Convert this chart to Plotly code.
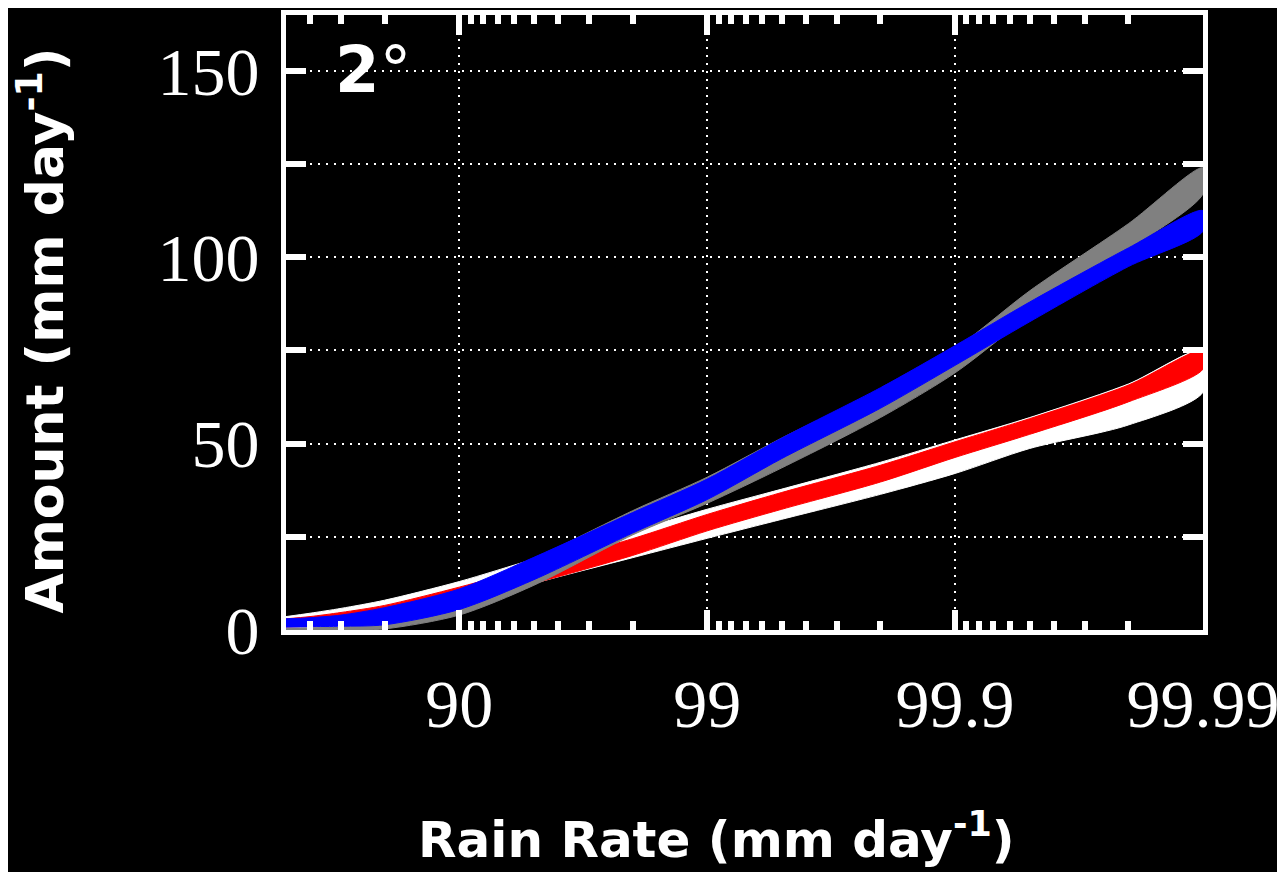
import plotly.graph_objects as go

# ---- data (percentiles and band edges, mm/day) ----
PCT = [50, 60, 70, 80, 90, 95, 98, 99, 99.5, 99.8, 99.9, 99.95, 99.98, 99.99]

WHITE_HI = [3.6, 4.5, 5.8, 8.0, 13.0, 19.0, 26.5, 32.4, 37.8, 45.0, 51.0, 57.0, 66.0, 75.0]
WHITE_LO = [0.5, 0.7, 1.0, 2.0, 6.5, 12.5, 19.4, 24.6, 29.7, 36.4, 42.0, 48.7, 55.0, 63.8]

RED_HI = [3.0, 3.6, 4.7, 6.6, 11.5, 17.0, 24.5, 31.0, 36.9, 44.2, 50.5, 56.7, 65.7, 75.0]
RED_LO = [0.8, 1.0, 1.5, 2.6, 7.0, 12.5, 20.0, 26.6, 32.4, 39.7, 46.3, 52.5, 61.2, 70.0]

GRAY_HI = [0.5, 0.6, 0.8, 3.0, 9.5, 19.0, 32.0, 41.0, 51.5, 64.5, 75.5, 91.0, 109.0, 124.0]
GRAY_LO = [0.0, 0.0, 0.0, 0.3, 4.0, 12.0, 25.5, 34.0, 43.5, 57.0, 69.0, 84.3, 102.0, 117.0]

BLUE_HI = [3.0, 3.3, 4.0, 6.0, 11.0, 19.5, 31.5, 40.5, 51.5, 65.0, 76.3, 88.0, 102.5, 112.5]
BLUE_LO = [0.8, 0.9, 1.0, 1.4, 5.5, 13.5, 26.0, 35.0, 46.0, 59.5, 71.0, 82.7, 97.5, 107.0]

MAJOR_PCT = [90, 99, 99.9, 99.99]
MAJOR_LABELS = ["90", "99", "99.9", "99.99"]
MINOR_PCT = [60, 70, 80,
             91, 92, 93, 94, 95, 96, 97, 98,
             99.1, 99.2, 99.3, 99.4, 99.5, 99.6, 99.7, 99.8,
             99.91, 99.92, 99.93, 99.94, 99.95, 99.96, 99.97, 99.98]
Y_TICKS = [0, 50, 100, 150]
Y_LABELS = ["0", "50", "100", "150"]
Y_UNLABELLED = [25, 75, 125]


def exceed(p_list):
    # fraction of samples above the percentile -> plotted on reversed log axis
    return [round(1 - p / 100.0, 8) for p in p_list]


X = exceed(PCT)

fig = go.Figure()


def band(hi, lo, color):
    xs = X + X[::-1]
    ys = hi + lo[::-1]
    fig.add_trace(go.Scatter(
        x=xs, y=ys, mode="lines", fill="toself", fillcolor=color,
        line=dict(color=color, width=1, shape="spline", smoothing=0.8),
        hoverinfo="skip", showlegend=False))


band(WHITE_HI, WHITE_LO, "#ffffff")
band(RED_HI, RED_LO, "#ff0000")
band(GRAY_HI, GRAY_LO, "#808080")
band(BLUE_HI, BLUE_LO, "#0000ff")

tick_font = dict(family="Liberation Serif, Times New Roman, serif", size=68, color="white")
grid_style = dict(showgrid=True, gridcolor="white", gridwidth=2, griddash="2px,6px")

fig.update_xaxes(
    type="log", range=[-0.30103, -4], autorange=False,
    tickmode="array", tickvals=exceed(MAJOR_PCT), ticktext=MAJOR_LABELS,
    ticks="inside", ticklen=20, tickwidth=6, tickcolor="white",
    showline=True, linecolor="white", linewidth=5, mirror="ticks",
    zeroline=False, tickfont=tick_font, ticklabelstandoff=10,
    minor=dict(tickmode="array", tickvals=exceed(MINOR_PCT), ticks="inside",
               ticklen=9, tickwidth=6, tickcolor="white", showgrid=False),
    **grid_style,
)

fig.update_yaxes(
    range=[0, 165], autorange=False,
    tickmode="array", tickvals=Y_TICKS, ticktext=Y_LABELS,
    ticks="inside", ticklen=20, tickwidth=6, tickcolor="white",
    showline=True, linecolor="white", linewidth=5, mirror="ticks",
    zeroline=False, tickfont=tick_font, ticklabelstandoff=8,
    minor=dict(tickmode="array", tickvals=Y_UNLABELLED, ticks="inside",
               ticklen=20, tickwidth=6, tickcolor="white", **grid_style),
    **grid_style,
)

fig.add_annotation(text="<b>Amount (mm day<sup>-1</sup>)</b>", textangle=-90,
                   xref="paper", yref="paper", x=-0.266, y=0.487,
                   xanchor="center", yanchor="middle", showarrow=False,
                   font=dict(family="DejaVu Sans", size=52, color="white"))
fig.add_annotation(text="<b>Rain Rate (mm day<sup>-1</sup>)</b>",
                   xref="paper", yref="paper", x=0.470, y=-0.336,
                   xanchor="center", yanchor="middle", showarrow=False,
                   font=dict(family="DejaVu Sans", size=50, color="white"))
fig.add_annotation(text="<b>2</b>°",
                   xref="paper", yref="paper", x=0.051, y=0.911,
                   xanchor="left", yanchor="middle", showarrow=False,
                   font=dict(family="DejaVu Sans", size=64, color="white"))

# the page body adds an 8px offset; margins place the plot area where it belongs
fig.update_layout(
    width=1285, height=872,
    paper_bgcolor="black", plot_bgcolor="black",
    margin=dict(l=278, r=90, t=2, b=250),
    showlegend=False,
)

fig.write_html("out.html")
